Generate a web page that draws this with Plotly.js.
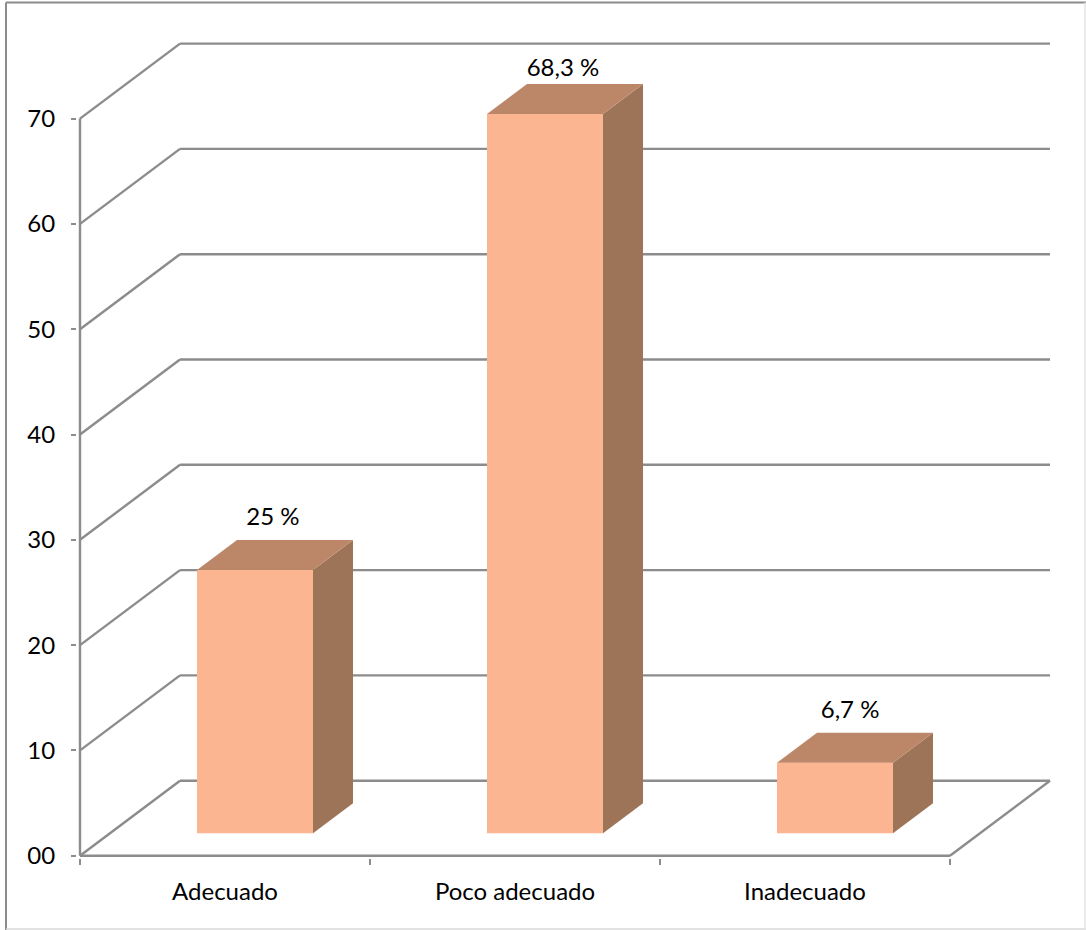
<!DOCTYPE html>
<html>
<head>
<meta charset="utf-8">
<script src="https://cdn.plot.ly/plotly-3.0.1.min.js"></script>
<style>html,body{margin:0;padding:0;background:#fff;overflow:hidden}</style>
</head>
<body>
<div id="chart" style="width:1086px;height:930px"></div>
<script>
// Data
var categories = ["Adecuado", "Poco adecuado", "Inadecuado"];
var values = [25, 68.3, 6.7];
var valueLabels = ["25 %", "68,3 %", "6,7 %"];
var labelLift = [2.0, 1.3, 2.0];
var labelShift = [0.062, 0.062, 0.052];
var yTickValues = [0, 10, 20, 30, 40, 50, 60, 70];
var yTickLabels = ["00", "10", "20", "30", "40", "50", "60", "70"];

// Fake-3D geometry, expressed in axis units
var W = 1086, H = 930;
var pxX = 290, pxY = 10.53;
var plot = {l: 77, r: 1054, t: 40, b: 858};
var x0px = 80, y0px = 855.7;
var depthX = 100 / pxX, depthY = 75 / pxY;
var barFront = 0.3, barBack = 0.7, barWidth = 0.4;
var xMin = -0.5, xMax = 2.5;
var baseY = barFront * depthY;

var LINE = "#8C8C8C", FRONT = "#FBB590", TOP = "#BC8769", SIDE = "#9E7459";
var FONT = "Lato, 'Open Sans', sans-serif";

function line(x, y, x2, y2) {
  return {type: "line", layer: "below", xref: "x", yref: "y", x0: x, y0: y, x1: x2, y1: y2,
          line: {color: LINE, width: 2.4}};
}
function border(px0, py0, px1, py1, color, width) {
  var w = plot.r - plot.l, h = plot.b - plot.t;
  return {type: "line", layer: "below", xref: "paper", yref: "paper",
          x0: (px0 - plot.l) / w, x1: (px1 - plot.l) / w,
          y0: (plot.b - py0) / h, y1: (plot.b - py1) / h,
          line: {color: color, width: width}};
}

var shapes = [];
// Chart frame
shapes.push(border(6, 2.5, 1086, 2.5, LINE, 2));
shapes.push(border(6, 2.5, 6, 930, LINE, 2));
shapes.push(border(6, 929, 1086, 929, "#D9D9D9", 1.5));
shapes.push(border(1085, 2.5, 1085, 930, "#E4E4E4", 1.5));

// Wall gridlines
yTickValues.forEach(function (v) {
  shapes.push(line(xMin, v, xMin + depthX, v + depthY));
  shapes.push(line(xMin + depthX, v + depthY, xMax + depthX, v + depthY));
});
// Front edges of the floor, right floor edge and vertical axis
shapes.push(line(xMin, 0, xMax, 0));
shapes.push(line(xMax, 0, xMax + depthX, depthY));
shapes.push(line(xMin, 0, xMin, yTickValues[yTickValues.length - 1]));

var traces = [];
traces.push({
  type: "bar", x: categories.map(function (c, i) { return i; }), y: values, base: baseY,
  width: barWidth, offset: -barWidth / 2 + barFront * depthX,
  marker: {color: FRONT, line: {width: 0}}, hoverinfo: "skip", showlegend: false
});

values.forEach(function (v, i) {
  var l = i - barWidth / 2 + barFront * depthX;
  var r = l + barWidth;
  var dx = (barBack - barFront) * depthX;
  var dy = (barBack - barFront) * depthY;
  var bot = baseY, top = baseY + v;
  traces.push({type: "scatter", mode: "none", fill: "toself", fillcolor: SIDE,
    x: [r, r + dx, r + dx, r, r], y: [bot, bot + dy, top + dy, top, bot],
    hoverinfo: "skip", showlegend: false});
  traces.push({type: "scatter", mode: "none", fill: "toself", fillcolor: TOP,
    x: [l, l + dx, r + dx, r, l], y: [top, top + dy, top + dy, top, top],
    hoverinfo: "skip", showlegend: false});
});

traces.push({
  type: "scatter", mode: "text",
  x: values.map(function (v, i) { return i + barFront * depthX + labelShift[i]; }),
  y: values.map(function (v, i) { return baseY + v + (barBack - barFront) * depthY + labelLift[i]; }),
  text: valueLabels, textposition: "middle center",
  textfont: {family: FONT, size: 24, color: "#000"},
  cliponaxis: false, hoverinfo: "skip", showlegend: false
});

var layout = {
  width: W, height: H, showlegend: false,
  paper_bgcolor: "#fff", plot_bgcolor: "rgba(0,0,0,0)",
  margin: {l: plot.l, r: W - plot.r, t: plot.t, b: H - plot.b, pad: 0},
  font: {family: FONT, size: 24, color: "#000"},
  xaxis: {
    type: "linear",
    range: [xMin - (x0px - plot.l) / pxX, xMin + (plot.r - x0px) / pxX],
    tickmode: "array", tickvals: categories.map(function (c, i) { return i; }), ticktext: categories,
    ticks: "outside", ticklen: 0, ticklabelstandoff: 12,
    minor: {tickmode: "array", tickvals: [-0.5, 0.5, 1.5, 2.5], ticks: "outside", ticklen: 6, tickwidth: 2, tickcolor: LINE, showgrid: false},
    showgrid: false, zeroline: false, showline: false, fixedrange: true
  },
  yaxis: {
    type: "linear",
    range: [-(plot.b - y0px) / pxY, (y0px - plot.t) / pxY],
    tickmode: "array", tickvals: yTickValues, ticktext: yTickLabels,
    ticks: "outside", ticklen: 5, tickwidth: 2, tickcolor: LINE, ticklabelstandoff: 11,
    showgrid: false, zeroline: false, showline: false, fixedrange: true
  },
  shapes: shapes
};
Plotly.newPlot("chart", traces, layout, {displayModeBar: false, staticPlot: true});
</script>
</body>
</html>
